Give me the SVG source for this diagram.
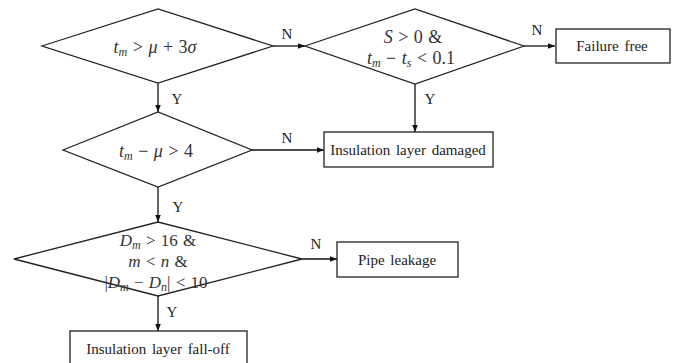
<svg xmlns="http://www.w3.org/2000/svg" width="676" height="363" viewBox="0 0 676 363">
  <defs>
    <marker id="arrow" viewBox="0 0 10 10" refX="10" refY="5" markerWidth="7" markerHeight="7" markerUnits="userSpaceOnUse" orient="auto">
      <path d="M0,1 L10,5 L0,9 Z" fill="#111"/>
    </marker>
    <style>
      .shape { fill: #fff; stroke: #222; stroke-width: 1.3; }
      .edge { fill: none; stroke: #111; stroke-width: 1.3; marker-end: url(#arrow); }
      .lbl { font-family: "Liberation Serif", "Times New Roman", serif; font-size: 15px; fill: #222; text-anchor: middle; word-spacing: 2px; }
      .math { font-family: "Liberation Serif", "Times New Roman", serif; font-size: 18px; font-style: italic; fill: #333; text-anchor: middle; word-spacing: 1px; }
      .tight { font-size: 17px; }
      .up { font-style: normal; }
      .sub { font-size: 12px; }
    </style>
  </defs>

  <!-- connectors -->
  <g id="connectors">
    <line class="edge" x1="273" y1="46" x2="305" y2="46"/>
    <line class="edge" x1="524" y1="46" x2="555" y2="46"/>
    <line class="edge" x1="158" y1="83" x2="158" y2="112"/>
    <line class="edge" x1="415" y1="84" x2="415" y2="132"/>
    <line class="edge" x1="252" y1="150" x2="324" y2="150"/>
    <line class="edge" x1="158" y1="187" x2="158" y2="222"/>
    <line class="edge" x1="302" y1="259" x2="337" y2="259"/>
    <line class="edge" x1="158" y1="296" x2="158" y2="331"/>
    <text class="lbl" x="287" y="39">N</text>
    <text class="lbl" x="537" y="35">N</text>
    <text class="lbl" x="177" y="104">Y</text>
    <text class="lbl" x="430" y="104">Y</text>
    <text class="lbl" x="287" y="143">N</text>
    <text class="lbl" x="178" y="212">Y</text>
    <text class="lbl" x="316" y="249">N</text>
    <text class="lbl" x="172" y="317">Y</text>
  </g>

  <!-- decision: temperature above limit -->
  <g id="d1">
    <polygon class="shape" points="42,46 158,9 273,46 158,83"/>
    <text class="math" x="155" y="53">t<tspan class="sub" dy="3">m</tspan><tspan class="up" dy="-3"> &gt; </tspan>μ<tspan class="up"> + 3</tspan>σ</text>
  </g>

  <!-- decision: slope and delta -->
  <g id="d2">
    <polygon class="shape" points="305,46 415,9 524,46 415,84"/>
    <text class="math" x="413" y="43">S<tspan class="up"> &gt; 0  &amp;</tspan></text>
    <text class="math" x="411" y="64">t<tspan class="sub" dy="3">m</tspan><tspan class="up" dy="-3"> − </tspan>t<tspan class="sub" dy="3">s</tspan><tspan class="up" dy="-3"> &lt; 0.1</tspan></text>
  </g>

  <g id="failure-free">
    <rect class="shape" x="556" y="29" width="114" height="34"/>
    <text class="lbl" x="612" y="51">Failure free</text>
  </g>

  <!-- decision: margin over mean -->
  <g id="d3">
    <polygon class="shape" points="63,150 158,112 252,150 158,187"/>
    <text class="math" x="156" y="157">t<tspan class="sub" dy="3">m</tspan><tspan class="up" dy="-3"> − </tspan>μ<tspan class="up"> &gt; 4</tspan></text>
  </g>

  <g id="insulation-damaged">
    <rect class="shape" x="324" y="132" width="169" height="35"/>
    <text class="lbl" x="408" y="155">Insulation layer damaged</text>
  </g>

  <!-- decision: defect depth checks -->
  <g id="d4">
    <polygon class="shape" points="14,259 158,222 302,259 158,296"/>
    <text class="math tight" x="158" y="246">D<tspan class="sub" dy="3">m</tspan><tspan class="up" dy="-3"> &gt; 16  &amp;</tspan></text>
    <text class="math tight" x="158" y="267">m<tspan class="up"> &lt; </tspan>n<tspan class="up">  &amp;</tspan></text>
    <text class="math tight" x="156" y="288"><tspan class="up">|</tspan>D<tspan class="sub" dy="3">m</tspan><tspan class="up" dy="-3"> − </tspan>D<tspan class="sub" dy="3">n</tspan><tspan class="up" dy="-3">| &lt; 10</tspan></text>
  </g>

  <g id="pipe-leakage">
    <rect class="shape" x="337" y="242" width="121" height="35"/>
    <text class="lbl" x="397" y="265">Pipe leakage</text>
  </g>

  <g id="insulation-falloff">
    <rect class="shape" x="70" y="331" width="177" height="40"/>
    <text class="lbl" x="158" y="354">Insulation layer fall-off</text>
  </g>
</svg>
